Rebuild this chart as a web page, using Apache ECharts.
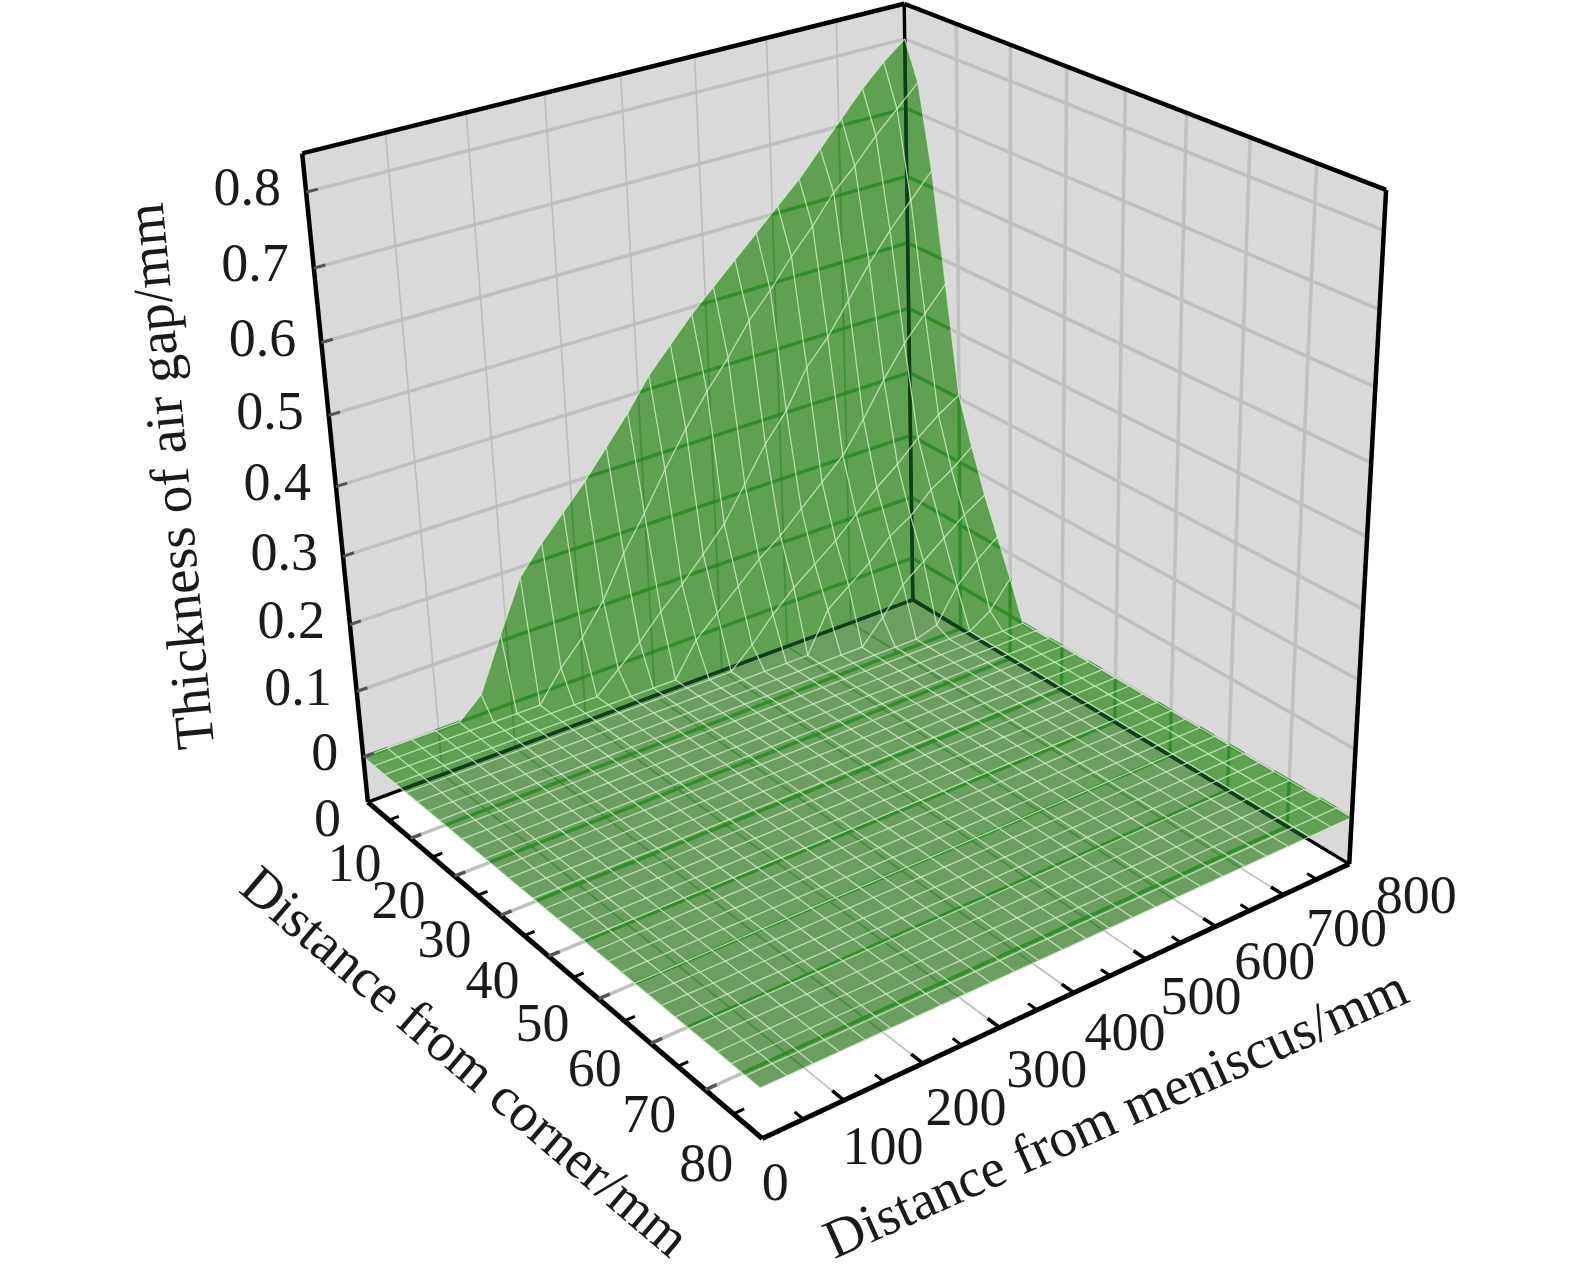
<!DOCTYPE html>
<html><head><meta charset="utf-8">
<style>html,body{margin:0;padding:0;background:#fff}#c{width:1575px;height:1283px}</style>
<script src="https://cdn.jsdelivr.net/npm/echarts@6/dist/echarts.min.js"></script>
</head><body><div id="c"></div>
<script>
// ---------- data ----------
const meniscusGrid = [0,32,64,96,128,160,192,224,256,288,320,352,384,416,448,480,512,544,576,608,640,672,704,736,768,800];
const cornerGrid = [0,2.5,5,7.5,10,12.5,15,17.5,20,22.5,25,27.5,30,32.5,35,37.5,40,42.5,45,47.5,50,52.5,55,57.5,60,62.5,65,67.5,70,72.5,75,77.5,80];
const gapC0   = [0,0,0,0,0,.03,.11,.185,.225,.26,.295,.335,.375,.42,.455,.49,.52,.55,.58,.61,.64,.675,.71,.745,.775,.80];
const gapC2_5 = [0,0,0,0,0,0,0,0,.045,.08,.125,.185,.235,.29,.34,.385,.425,.47,.505,.545,.58,.62,.65,.685,.715,.745];
const gapC5   = [0,0,0,0,0,0,0,0,0,0,.03,.06,.095,.125,.16,.195,.245,.295,.335,.39,.425,.47,.515,.555,.59,.625];
const gapC7_5 = [0,0,0,0,0,0,0,0,0,0,0,0,0,.05,.08,.11,.14,.165,.195,.225,.255,.30,.35,.395,.43,.465];
const gapC10  = [0,0,0,0,0,0,0,0,0,0,0,0,0,0,0,.03,.065,.095,.12,.145,.175,.205,.23,.26,.285,.305];
const gapC12_5= [0,0,0,0,0,0,0,0,0,0,0,0,0,0,0,0,0,0,.06,.085,.11,.14,.16,.19,.21,.235];
const gapC15  = [0,0,0,0,0,0,0,0,0,0,0,0,0,0,0,0,0,0,0,0,.035,.075,.10,.125,.15,.17];
const gapC17_5= [0,0,0,0,0,0,0,0,0,0,0,0,0,0,0,0,0,0,0,0,0,0,.01,.06,.09,.115];
const gapC20  = [0,0,0,0,0,0,0,0,0,0,0,0,0,0,0,0,0,0,0,0,0,0,0,0,.02,.06];
const gapFlat = [0,0,0,0,0,0,0,0,0,0,0,0,0,0,0,0,0,0,0,0,0,0,0,0,0,0];
const gapRaised = [gapC0,gapC2_5,gapC5,gapC7_5,gapC10,gapC12_5,gapC15,gapC17_5,gapC20];
const zTicks = [0,0.1,0.2,0.3,0.4,0.5,0.6,0.7,0.8];
const cornerTicks = [0,10,20,30,40,50,60,70,80];
const meniscusTicks = [0,100,200,300,400,500,600,700,800];
const cornerMinor = [5,15,25,35,45,55,65,75];
const meniscusMinor = [50,150,250,350,450,550,650,750];
const zMin = -0.07, zMax = 0.85, mMax = 800, cMax = 80;
const titleZ = 'Thickness of air gap/mm', titleCorner = 'Distance from corner/mm', titleMeniscus = 'Distance from meniscus/mm';

// ---------- camera calibration: (m,c,z) -> scene pixel ----------
const anchors = [
 [0,0,zMin,367,806],[0,80,zMin,762,1141],[800,80,zMin,1351,866],[800,0,zMin,913,602],
 [0,0,zMax,301,155],[800,0,zMax,904,3],[800,80,zMax,1387,190],
 [0,0,0,364,757],[0,80,0,760,1083],[800,80,0,1352,813],[800,0,0,912,557],
 [0,0,.8,307,193],[800,0,.8,905,40],[800,80,.8,1385,231],
 [100,80,zMin,843,1100],[600,80,zMin,1213,927],[700,80,zMin,1282,895],
 [0,10,zMin,413,838],[0,50,zMin,602,1000],[0,60,zMin,650,1045],[0,70,zMin,705,1092],
 [0,0,.1,355,687],[0,0,.2,350,622],[0,0,.7,313,267],
 [800,0,.7,906,110],[800,0,.6,906,175],[800,0,.5,907,242],[800,0,.1,912,497]
];
const norm = (m,c,z)=>[m/mMax,c/cMax,(z-zMin)/(zMax-zMin)];
function solveCamera(){
  const N=11,A=[...Array(N)].map(()=>Array(N+1).fill(0));
  const addEq=(r,b)=>{for(let i=0;i<N;i++){for(let j=0;j<N;j++)A[i][j]+=r[i]*r[j];A[i][N]+=r[i]*b;}};
  anchors.forEach(a=>{const [u,v,w]=norm(a[0],a[1],a[2]),x=a[3]/1000,y=a[4]/1000;
    addEq([u,v,w,1,0,0,0,0,-x*u,-x*v,-x*w],x);
    addEq([0,0,0,0,u,v,w,1,-y*u,-y*v,-y*w],y);});
  for(let i=0;i<N;i++){let p=i;for(let k=i+1;k<N;k++)if(Math.abs(A[k][i])>Math.abs(A[p][i]))p=k;
    [A[i],A[p]]=[A[p],A[i]];
    for(let k=0;k<N;k++){if(k===i)continue;const f=A[k][i]/A[i][i];for(let j=i;j<=N;j++)A[k][j]-=f*A[i][j];}}
  return A.map((r,i)=>r[N]/r[i]);
}
const P=solveCamera();
function project(m,c,z){const [u,v,w]=norm(m,c,z);
  const d=P[8]*u+P[9]*v+P[10]*w+1;
  return [1000*(P[0]*u+P[1]*v+P[2]*w+P[3])/d,1000*(P[4]*u+P[5]*v+P[6]*w+P[7])/d];}

// ---------- surface geometry ----------
const gap=(i,j)=>(gapRaised[i]||gapFlat)[j];
const surfPt=(i,j)=>project(meniscusGrid[j],cornerGrid[i],gap(i,j));
const cells=[],tris=[];
for(let i=0;i<cornerGrid.length-1;i++)for(let j=0;j<meniscusGrid.length-1;j++){
  let q=[surfPt(i,j),surfPt(i,j+1),surfPt(i+1,j+1),surfPt(i+1,j)];
  let a=0;q.forEach((p,k)=>{const n=q[(k+1)%4];a+=p[0]*n[1]-n[0]*p[1];});
  if(a<0)q=q.reverse();
  cells.push(q);tris.push([q[0],q[1],q[2]],[q[0],q[2],q[3]]);
}
function clipToSurface(a,b){
  let iv=[];const dx=b[0]-a[0],dy=b[1]-a[1];
  tris.forEach(t=>{
    let t0=0,t1=1,ok=true;
    const ar=(t[1][0]-t[0][0])*(t[2][1]-t[0][1])-(t[1][1]-t[0][1])*(t[2][0]-t[0][0]);
    if(Math.abs(ar)<1e-6)return;
    const s=ar>0?1:-1;
    for(let k=0;k<3&&ok;k++){const p=t[k],q=t[(k+1)%3];
      const nx=-(q[1]-p[1])*s,ny=(q[0]-p[0])*s;
      const den=nx*dx+ny*dy,num=nx*(a[0]-p[0])+ny*(a[1]-p[1]);
      if(Math.abs(den)<1e-9){if(num<0)ok=false;continue;}
      const tt=-num/den;
      if(den>0)t0=Math.max(t0,tt);else t1=Math.min(t1,tt);
      if(t0>t1)ok=false;}
    if(ok)iv.push([t0,t1]);
  });
  iv.sort((x,y)=>x[0]-y[0]);
  const out=[];iv.forEach(v=>{const l=out[out.length-1];if(l&&v[0]<=l[1]+1e-4)l[1]=Math.max(l[1],v[1]);else out.push(v.slice());});
  return out;
}
function clipPoly(sub,clip){ // Sutherland-Hodgman, clip is convex
  let ar=0;clip.forEach((p,k)=>{const n=clip[(k+1)%clip.length];ar+=p[0]*n[1]-n[0]*p[1];});const s=ar>0?1:-1;
  let out=sub;
  clip.forEach((p,k)=>{const q=clip[(k+1)%clip.length],inp=out;out=[];
    const side=r=>s*((q[0]-p[0])*(r[1]-p[1])-(q[1]-p[1])*(r[0]-p[0]));
    inp.forEach((r,h)=>{const e=inp[(h+1)%inp.length],sr=side(r),se=side(e);
      if(sr>=0)out.push(r);
      if(sr*se<0){const t=sr/(sr-se);out.push([r[0]+t*(e[0]-r[0]),r[1]+t*(e[1]-r[1])]);}});});
  return out;
}

// ---------- style tokens ----------
const wallFill='#d9d9d9', surfFill='rgba(20,125,0,0.62)', floorTint='rgb(251,212,255)';
const meshStroke='rgba(208,238,198,0.78)';
const thickGrid={stroke:'#c0c0c0',lineWidth:3.5}, thinGrid={stroke:'#bdbdbd',lineWidth:1.6};
const thickSeen={stroke:'rgba(40,140,35,0.8)',lineWidth:3.2}, thinSeen={stroke:'rgba(45,135,40,0.4)',lineWidth:1.8};
const edgeSeen={stroke:'rgba(15,60,30,0.9)',lineWidth:3.4};
const fontFam='"Liberation Serif","Times New Roman",serif', tickSize=54, titleSize=55, textCol='#1a1a1a';

// ---------- line lists in data units ----------
const gridLines=[],seenLines=[];
function grid(m0,c0,z0,m1,c1,z1,u,s){gridLines.push([m0,c0,z0,m1,c1,z1,u]);seenLines.push([m0,c0,z0,m1,c1,z1,s]);}
zTicks.forEach(z=>{grid(0,0,z,mMax,0,z,thickGrid,thickSeen);grid(mMax,0,z,mMax,cMax,z,thickGrid,thickSeen);});
meniscusTicks.slice(1,-1).forEach(m=>{grid(m,0,zMin,m,0,zMax,thinGrid,thinSeen);grid(m,0,zMin,m,cMax,zMin,thinGrid,thinSeen);});
cornerTicks.slice(1,-1).forEach(c=>{grid(mMax,c,zMin,mMax,c,zMax,thickGrid,thickSeen);grid(0,c,zMin,mMax,c,zMin,thickGrid,thickSeen);});
const backEdges=[[0,0,zMin,mMax,0,zMin],[mMax,0,zMin,mMax,cMax,zMin],[mMax,0,zMin,mMax,0,zMax]];
const frontEdges=[[0,0,zMin,0,cMax,zMin,5],[0,cMax,zMin,mMax,cMax,zMin,5],[0,0,zMin,0,0,zMax,4.5],[mMax,cMax,zMin,mMax,cMax,zMax,4.5],[0,0,zMax,mMax,0,zMax,4.5],[mMax,0,zMax,mMax,cMax,zMax,4.5]];
const tickLines=[];
cornerTicks.slice(1,-1).forEach(c=>tickLines.push([0,c,zMin,14,c,zMin,'#555',3.5]));
cornerMinor.forEach(c=>tickLines.push([0,c,zMin,13,c,zMin,'#000',3]));
meniscusTicks.slice(1,-1).forEach(m=>tickLines.push([m,cMax,zMin,m,cMax-2,zMin,'#000',3.5]));
meniscusMinor.forEach(m=>tickLines.push([m,cMax,zMin,m,cMax-1.5,zMin,'#000',3]));
zTicks.forEach(z=>tickLines.push([0,0,z,14,0,z,'#555',3]));

// ---------- series helpers ----------
const c2=(api,p)=>api.coord(p);
const base={type:'custom',coordinateSystem:'cartesian2d',clip:false,silent:true,animation:false};
const seq=n=>[...Array(n).keys()].map(i=>[i,i]);
function lineSeries(list,z,styleOf,clipped){
  return Object.assign({},base,{z,data:seq(list.length),renderItem(p,api){
    const l=list[p.dataIndex],a=project(l[0],l[1],l[2]),b=project(l[3],l[4],l[5]),st=styleOf(l);
    const parts=clipped?clipToSurface(a,b):[[0,1]];
    const at=t=>c2(api,[a[0]+t*(b[0]-a[0]),a[1]+t*(b[1]-a[1])]);
    return {type:'group',children:parts.map(v=>{const s=at(v[0]),e=at(v[1]);
      return {type:'line',shape:{x1:s[0],y1:s[1],x2:e[0],y2:e[1]},style:{stroke:st.stroke,lineWidth:st.lineWidth,lineCap:'butt',fill:null}};})};
  }});
}
function polySeries(polys,z,fills){
  return Object.assign({},base,{z,data:seq(polys.length),renderItem(p,api){
    return {type:'polygon',shape:{points:polys[p.dataIndex].map(q=>c2(api,q))},style:{fill:fills[p.dataIndex],stroke:null}};
  }});
}
const meshLines=[];
cornerGrid.forEach((c,i)=>meshLines.push(meniscusGrid.map((m,j)=>surfPt(i,j))));
meniscusGrid.forEach((m,j)=>meshLines.push(cornerGrid.map((c,i)=>surfPt(i,j))));

const surfaceTrace=[];const anchor=cells[0][0];
cells.forEach(q=>{surfaceTrace.push(anchor,q[0],q[1],q[2],q[3],q[0],anchor);});

const wallLeft=[project(0,0,zMin),project(mMax,0,zMin),project(mMax,0,zMax),project(0,0,zMax)];
const wallRight=[project(mMax,0,zMin),project(mMax,cMax,zMin),project(mMax,cMax,zMax),project(mMax,0,zMax)];
const floorQuad=[project(0,0,zMin),project(0,cMax,zMin),project(mMax,cMax,zMin),project(mMax,0,zMin)];
const planeQuad=[project(0,0,0),project(0,cMax,0),project(mMax,cMax,0),project(mMax,0,0)];
const tint=clipPoly(floorQuad,planeQuad);

// ---------- labels ----------
const labels=[];
zTicks.forEach(z=>{const p=project(0,0,z);labels.push({t:String(z),x:p[0]-25,y:p[1]-1,a:'right',s:tickSize});});
cornerTicks.forEach(c=>{const p=project(0,c,zMin);labels.push(c===0?{t:'0',x:p[0]-27,y:p[1]+20,a:'right',s:tickSize}:{t:String(c),x:p[0]-29,y:p[1]+28,a:'right',s:tickSize});});
meniscusTicks.forEach(m=>{const p=project(m,cMax,zMin);labels.push({t:String(m),x:p[0]+(m===0?13:35+m*.04),y:p[1]+(m===0?47:52-m*.022),a:'center',s:tickSize});});
labels.push({t:titleZ,x:174,y:476,a:'center',r:95.4*Math.PI/180,s:titleSize});
labels.push({t:titleCorner,x:463,y:1064,a:'center',r:-40.4*Math.PI/180,s:titleSize});
labels.push({t:titleMeniscus,x:1117,y:1117,a:'center',r:24.1*Math.PI/180,s:titleSize});

const chart=echarts.init(document.getElementById('c'),null,{renderer:'canvas',width:1575,height:1283});
chart.setOption({
  animation:false,backgroundColor:'#fff',
  grid:{left:0,right:0,top:0,bottom:0},
  xAxis:{type:'value',min:0,max:1575,show:false},
  yAxis:{type:'value',min:0,max:1283,inverse:true,show:false},
  series:[
    polySeries([wallLeft,wallRight],1,[wallFill,wallFill]),
    polySeries([tint],2,[floorTint]),
    lineSeries(gridLines,3,l=>l[6]),
    lineSeries(backEdges,4,()=>({stroke:'#000',lineWidth:3.4})),
    polySeries([surfaceTrace],5,[surfFill]),
    lineSeries(seenLines,6,l=>l[6],true),
    lineSeries(backEdges,7,()=>edgeSeen,true),
    Object.assign({},base,{z:8,data:seq(meshLines.length),renderItem(p,api){
      return {type:'polyline',shape:{points:meshLines[p.dataIndex].map(q=>c2(api,q))},style:{stroke:meshStroke,lineWidth:1.3,fill:null}};
    }}),
    lineSeries(frontEdges,9,l=>({stroke:'#000',lineWidth:l[6]})),
    lineSeries(tickLines,9,l=>({stroke:l[6],lineWidth:l[7]})),
    Object.assign({},base,{z:10,data:seq(labels.length),renderItem(p,api){
      const l=labels[p.dataIndex],q=c2(api,[l.x,l.y]);
      return {type:'text',x:q[0],y:q[1],rotation:l.r||0,style:{text:l.t,fontFamily:fontFam,fontSize:l.s,fill:textCol,align:l.a,verticalAlign:'middle'}};
    }})
  ]
});
</script></body></html>
